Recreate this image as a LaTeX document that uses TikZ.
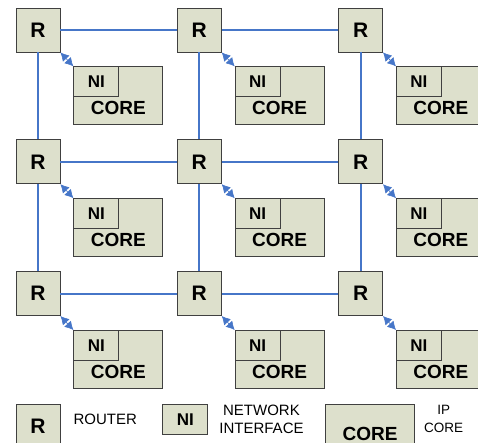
\documentclass[tikz,border=0pt]{standalone}
\usepackage{fontspec}
\setmainfont{Liberation Sans}
\usepackage{xcolor}
\usepackage{tikz}
\definecolor{boxfill}{RGB}{221, 224, 204}
\definecolor{boxline}{RGB}{64, 64, 64}
\definecolor{linkblue}{RGB}{70, 118, 200}
\usetikzlibrary{arrows.meta, positioning}

\begin{document}
\begin{tikzpicture}[
    router/.style={rectangle, draw=boxline, fill=boxfill, line width=0.8pt,
                   minimum width=44pt, minimum height=44pt, inner sep=0pt,
                   font=\fontsize{21}{24}\selectfont\bfseries},
    corebox/.style={rectangle, draw=boxline, fill=boxfill, line width=0.8pt,
                    minimum width=89pt, minimum height=58pt, inner sep=0pt},
    coretext/.style={inner sep=0pt, anchor=south,
                     font=\fontsize{19}{22}\selectfont\bfseries},
    core/.style={corebox, label={[coretext, yshift=10pt]south:CORE}},
    ni/.style={rectangle, draw=boxline, fill=boxfill, line width=0.8pt,
               minimum width=45pt, minimum height=30pt, inner sep=0pt,
               anchor=north west, font=\fontsize{17}{20}\selectfont\bfseries},
    link/.style={draw=linkblue, line width=2pt},
    nilink/.style={{Latex[length=8.5pt, width=9pt]}-{Latex[length=8.5pt, width=9pt]},
                   draw=linkblue, fill=linkblue, line width=0.6pt},
    legend/.style={inner sep=0pt, align=center,
                   font=\fontsize{15}{18.3}\selectfont}
]
    \useasboundingbox (0,0) rectangle (478pt,-443pt);
    \clip (0,0) rectangle (478pt,-443pt);

    % Routers
    \node[router] (r11) at (38pt,-30pt) {R};
    \node[router, right=116.5pt of r11] (r12) {R};
    \node[router, right=116.5pt of r12] (r13) {R};
    \node[router, below=87pt of r11] (r21) {R};
    \node[router, right=116.5pt of r21] (r22) {R};
    \node[router, right=116.5pt of r22] (r23) {R};
    \node[router, below=87pt of r21] (r31) {R};
    \node[router, right=116.5pt of r31] (r32) {R};
    \node[router, right=116.5pt of r32] (r33) {R};

    % Cores
    \node[core, below right=14pt and 13pt of r11] (c11) {};
    \node[core, below right=14pt and 13pt of r12] (c12) {};
    \node[core, below right=14pt and 13pt of r13] (c13) {};
    \node[core, below right=14pt and 13pt of r21] (c21) {};
    \node[core, below right=14pt and 13pt of r22] (c22) {};
    \node[core, below right=14pt and 13pt of r23] (c23) {};
    \node[core, below right=14pt and 13pt of r31] (c31) {};
    \node[core, below right=14pt and 13pt of r32] (c32) {};
    \node[core, below right=14pt and 13pt of r33] (c33) {};

    % Network interfaces
    \node[ni] (n11) at (c11.north west) {NI};
    \node[ni] (n12) at (c12.north west) {NI};
    \node[ni] (n13) at (c13.north west) {NI};
    \node[ni] (n21) at (c21.north west) {NI};
    \node[ni] (n22) at (c22.north west) {NI};
    \node[ni] (n23) at (c23.north west) {NI};
    \node[ni] (n31) at (c31.north west) {NI};
    \node[ni] (n32) at (c32.north west) {NI};
    \node[ni] (n33) at (c33.north west) {NI};

    % Mesh links
    \draw[link] (r11) -- (r12);
    \draw[link] (r12) -- (r13);
    \draw[link] (r21) -- (r22);
    \draw[link] (r22) -- (r23);
    \draw[link] (r31) -- (r32);
    \draw[link] (r32) -- (r33);
    \draw[link] (r11) -- (r21);
    \draw[link] (r21) -- (r31);
    \draw[link] (r12) -- (r22);
    \draw[link] (r22) -- (r32);
    \draw[link] (r13) -- (r23);
    \draw[link] (r23) -- (r33);

    % Router to NI
    \draw[nilink] (r11.south east) -- (n11.north west);
    \draw[nilink] (r12.south east) -- (n12.north west);
    \draw[nilink] (r13.south east) -- (n13.north west);
    \draw[nilink] (r21.south east) -- (n21.north west);
    \draw[nilink] (r22.south east) -- (n22.north west);
    \draw[nilink] (r23.south east) -- (n23.north west);
    \draw[nilink] (r31.south east) -- (n31.north west);
    \draw[nilink] (r32.south east) -- (n32.north west);
    \draw[nilink] (r33.south east) -- (n33.north west);

    % Legend
    \node[router, below=88pt of r31] (lr) {R};
    \node[legend, right=13pt of lr, yshift=7pt] (lrtext) {ROUTER};
    \node[ni, right=102pt of lr.north east, anchor=north west] (lni) {NI};
    \node[legend, right=11pt of lni] (lnitext) {NETWORK\\INTERFACE};
    \node[corebox, right=117pt of lni.north east, anchor=north west,
          label={[coretext, yshift=22pt]south:CORE}] (lc) {};
    \node[legend, font=\fontsize{13.5}{18.3}\selectfont,
          right=9pt of lc.north east, yshift=-15pt] (lctext) {IP\\CORE};
\end{tikzpicture}
\end{document}
